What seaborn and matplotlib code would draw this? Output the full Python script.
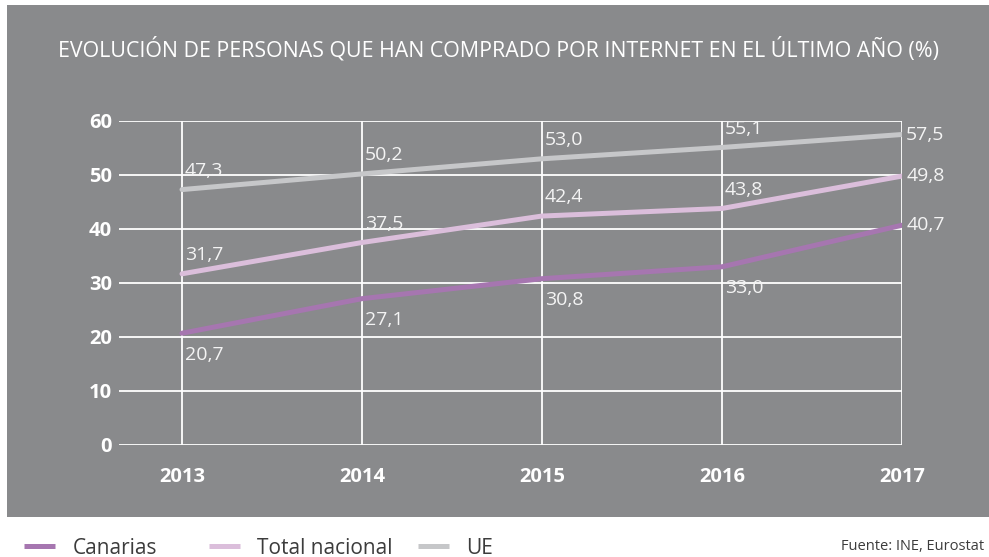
import matplotlib
matplotlib.use("Agg")
import matplotlib.pyplot as plt
import seaborn as sns
import pandas as pd
from matplotlib.patches import Rectangle

years = [2013, 2014, 2015, 2016, 2017]
canarias = [20.7, 27.1, 30.8, 33.0, 40.7]
total_nacional = [31.7, 37.5, 42.4, 43.8, 49.8]
ue = [47.3, 50.2, 53.0, 55.1, 57.5]
series_names = ["Canarias", "Total nacional", "UE"]
y_ticks = [0, 10, 20, 30, 40, 50, 60]
title = "EVOLUCIÓN DE PERSONAS QUE HAN COMPRADO POR INTERNET EN EL ÚLTIMO AÑO (%)"
source = "Fuente: INE, Eurostat"

colors = {"Canarias": "#a676b0", "Total nacional": "#dbbedb", "UE": "#c6c7c9"}
BG = "#898a8c"

df = pd.DataFrame({
    "year": years * 3,
    "value": canarias + total_nacional + ue,
    "serie": [s for s in series_names for _ in years],
})

sns.set_theme(style="white")
plt.rcParams["font.family"] = ["Open Sans", "DejaVu Sans"]

fig = plt.figure(figsize=(9.89, 5.57), dpi=100)
bg = Rectangle((7 / 989, 1 - 517 / 557), 1, (517 - 5) / 557,
               transform=fig.transFigure, facecolor=BG, edgecolor="none")
bg.set_zorder(-10)
fig.add_artist(bg)

ax = fig.add_axes([119 / 989, 1 - 445 / 557, (902 - 119) / 989, (445 - 121) / 557])
ax.set_facecolor("none")
ax.set_zorder(1)

for yv in y_ticks:
    ax.axhline(yv, color="white", lw=1.3, zorder=1)
for xv in years:
    ax.plot([xv, xv], [0, 60], color="white", lw=1.3, zorder=1)

sns.lineplot(data=df, x="year", y="value", hue="serie", palette=colors,
             linewidth=3.6, ax=ax, legend=False, zorder=3)

ax.set_xlim(2013 - 0.35, 2017)
ax.set_ylim(0, 60)
ax.set_xticks(years)
ax.set_xticklabels([str(y) for y in years])
ax.set_yticks(y_ticks)
for s in ax.spines.values():
    s.set_visible(False)
ax.tick_params(axis="both", length=0, colors="white", labelsize=14.5)
ax.tick_params(axis="x", pad=16)
ax.tick_params(axis="y", pad=5)
for lab in ax.get_xticklabels() + ax.get_yticklabels():
    lab.set_fontweight("bold")
ax.set_xlabel("")
ax.set_ylabel("")

lab_kw = dict(color="#f4f4f4", fontsize=14, textcoords="offset points", zorder=4)
for name, vals, below in [("Canarias", canarias, True),
                          ("Total nacional", total_nacional, False),
                          ("UE", ue, False)]:
    for i, (x, v) in enumerate(zip(years, vals)):
        txt = f"{v:.1f}".replace(".", ",")
        if i == len(years) - 1:
            ax.annotate(txt, (x, v), xytext=(3, 0), ha="left", va="center", **lab_kw)
        elif below:
            ax.annotate(txt, (x, v), xytext=(2, -9), ha="left", va="top", **lab_kw)
        else:
            ax.annotate(txt, (x, v), xytext=(2, 10), ha="left", va="baseline", **lab_kw)

fig.text(498 / 989, 1 - 56 / 557, title, color="white", fontsize=15.4,
         ha="center", va="baseline")

legend_x = [14, 199, 408]
for n, lx in zip(series_names, legend_x):
    h = plt.Line2D([], [], color=colors[n], lw=3.6, solid_capstyle="butt")
    fig.legend([h], [n], loc="center left",
               bbox_to_anchor=(lx / 989, 1 - 548 / 557), frameon=False,
               fontsize=15, handlelength=1.45, handletextpad=0.85,
               labelcolor="#3c3c3c", borderpad=0)

fig.text(984 / 989, 1 - 547 / 557, source, color="#3c3c3c", fontsize=10.5,
         ha="right", va="center")

fig.savefig("out.png", dpi=100)
